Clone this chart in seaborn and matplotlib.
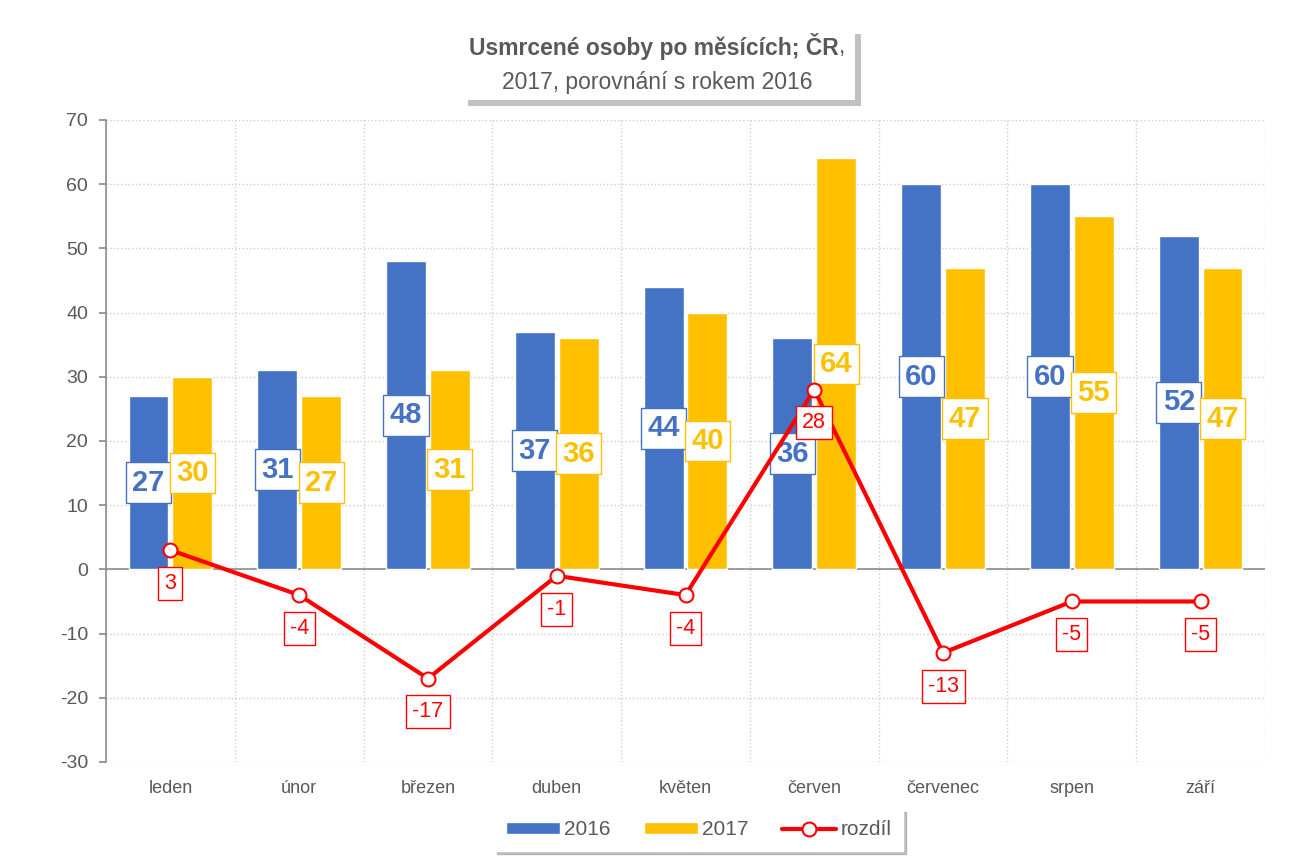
import matplotlib.pyplot as plt
import matplotlib.patheffects as pe
from matplotlib.patches import FancyBboxPatch, Patch
from matplotlib.lines import Line2D
import numpy as np
import pandas as pd
import seaborn as sns

mesice = ['leden', 'únor', 'březen', 'duben', 'květen', 'červen', 'červenec', 'srpen', 'září']
rok_2016 = [27, 31, 48, 37, 44, 36, 60, 60, 52]
rok_2017 = [30, 27, 31, 36, 40, 64, 47, 55, 47]
rozdil = [3, -4, -17, -1, -4, 28, -13, -5, -5]

modra = '#4472C4'
zluta = '#FFC000'
cervena = '#FF0000'
seda = '#595959'
osa = '#8c8c8c'

sns.set_theme(style='white')
plt.rcParams['font.family'] = ['Liberation Sans', 'DejaVu Sans']
plt.rcParams['axes.unicode_minus'] = False

df = pd.DataFrame({
    'mesic': mesice * 2,
    'rok': ['2016'] * len(mesice) + ['2017'] * len(mesice),
    'pocet': rok_2016 + rok_2017,
})

fig = plt.figure(figsize=(12.96, 8.65), dpi=100)
ax = fig.add_axes([0.0818, 0.1191, 0.8943, 0.7422])

# sloupce 2016 a 2017
sns.barplot(data=df, x='mesic', y='pocet', hue='rok', palette=[modra, zluta],
            width=0.68, gap=0.09, saturation=1, ax=ax, legend=False, zorder=2)

for cont, barva in zip(ax.containers, [modra, zluta]):
    ax.bar_label(cont, label_type='center', color=barva, fontsize=21, fontweight='bold',
                 bbox=dict(boxstyle='square,pad=0.22', fc='white', ec=barva, lw=1), zorder=4)

# rozdil - cara
x = np.arange(len(mesice))
ax.plot(x, rozdil, color=cervena, lw=3, marker='o', ms=10, mfc='white', mec=cervena,
        mew=1.5, zorder=5)
for xi, v in zip(x, rozdil):
    ax.annotate(str(v), (xi, v), xytext=(0, -24), textcoords='offset points',
                ha='center', va='center', fontsize=15.5, color=cervena, zorder=6,
                bbox=dict(boxstyle='square,pad=0.28', fc='white', ec=cervena, lw=1))

# osy
ax.set_ylim(-30, 70)
ax.set_yticks(range(-30, 71, 10))
ax.set_xlim(-0.5, len(mesice) - 0.5)
ax.set_xticks(np.arange(-0.5, len(mesice), 1), minor=True)
ax.yaxis.grid(True, ls=':', color='#cfcfcf', lw=1)
ax.xaxis.grid(True, which='minor', ls=':', color='#cfcfcf', lw=1)
ax.xaxis.grid(False, which='major')
ax.set_axisbelow(True)
ax.axhline(0, color=osa, lw=1.2, zorder=1)
for s in ['top', 'right', 'bottom']:
    ax.spines[s].set_visible(False)
ax.spines['left'].set_color(osa)
ax.spines['left'].set_linewidth(1.2)
ax.tick_params(axis='y', left=True, length=5, color=osa, labelsize=14, labelcolor=seda, pad=8)
ax.tick_params(axis='x', which='both', bottom=False, labelsize=13, labelcolor=seda, pad=7)
ax.set_xlabel('')
ax.set_ylabel('')

# titulek v ramecku se stinem
box = FancyBboxPatch((0.3565, 0.8844), 0.3032, 0.0832, boxstyle='square,pad=0',
                     transform=fig.transFigure, fc='white', ec='none')
box.set_path_effects([pe.withSimplePatchShadow(offset=(4, -4), shadow_rgbFace='#999999', alpha=0.6),
                      pe.Normal()])
fig.patches.append(box)

r = fig.canvas.get_renderer()
t1 = fig.text(0, 0.9457, 'Usmrcené osoby po měsících; ČR', ha='left', va='center',
              fontsize=16.5, fontweight='bold', color=seda)
t2 = fig.text(0, 0.9457, ',', ha='left', va='center', fontsize=16.5, color=seda)
w1 = t1.get_window_extent(r).width / fig.bbox.width
w2 = t2.get_window_extent(r).width / fig.bbox.width
x0 = 0.507 - (w1 + w2) / 2
t1.set_x(x0)
t2.set_x(x0 + w1)
fig.text(0.507, 0.9052, '2017, porovnání s rokem 2016', ha='center', va='center',
         fontsize=16.5, color=seda)

# legenda
handles = [
    Patch(facecolor=modra, label='2016'),
    Patch(facecolor=zluta, label='2017'),
    Line2D([0], [0], color=cervena, lw=3, marker='o', ms=10, mfc='white', mec=cervena,
           mew=1.5, label='rozdíl'),
]
leg = fig.legend(handles=handles, loc='center', bbox_to_anchor=(0.539, 0.0405), ncol=3,
                 fontsize=15, frameon=True, fancybox=False, shadow={'color': '#999999', 'alpha': 0.6},
                 handlelength=2.6, handleheight=0.55, columnspacing=1.6, handletextpad=0.2,
                 borderpad=0.55, borderaxespad=0)
leg.get_frame().set_edgecolor('white')
for t in leg.get_texts():
    t.set_color(seda)

fig.savefig('out.png', dpi=100)
